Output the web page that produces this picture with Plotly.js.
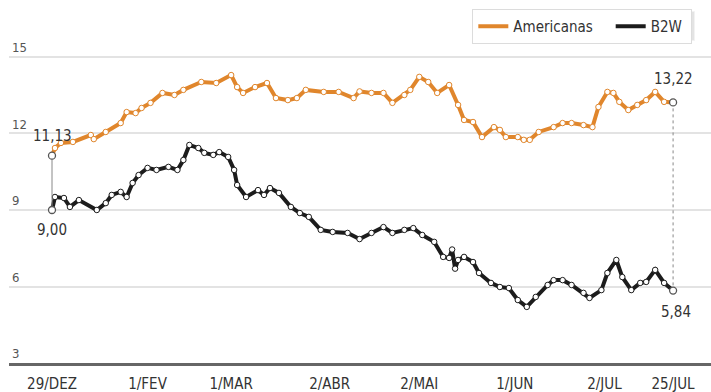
<!DOCTYPE html>
<html>
<head>
<meta charset="utf-8">
<script src="https://cdn.plot.ly/plotly-3.0.1.min.js"></script>
<style>html,body{margin:0;padding:0;background:#fff;}#chart{width:711px;height:392px;}</style>
</head>
<body>
<div id="chart"></div>
<script>
// days since 29/DEZ
const daysAm = [0,1,3,7,13,14,18,23,25,28,30,33,37,41,44,50,55,60,62,64,68,72,75,79,82,85,91,96,101,103,107,111,114,118,120,123,126,129,133,136,138,141,144,148,150,152,156,158,160,163,168,171,174,178,181,183,186,188,190,193,196,199,202,205,208];
const americanas = [11.13,11.43,11.63,11.67,11.94,11.78,12.06,12.41,12.84,12.80,13.00,13.20,13.59,13.51,13.71,14.02,13.98,14.29,13.82,13.59,13.82,13.98,13.39,13.31,13.39,13.71,13.63,13.63,13.39,13.65,13.59,13.59,13.20,13.51,13.71,14.22,14.02,13.59,13.90,13.12,12.53,12.45,11.86,12.25,12.14,11.86,11.86,11.75,11.75,12.06,12.25,12.41,12.41,12.33,12.25,13.04,13.63,13.59,13.24,12.92,13.12,13.31,13.63,13.24,13.22];
const daysB2w = [0,1,4,6,9,15,18,20,23,25,27,29,32,35,39,42,44,46,49,51,54,56,59,61,62,65,69,71,73,76,80,83,86,90,94,99,103,107,111,114,118,121,124,128,131,133,134,135,136,138,141,143,147,150,153,156,159,162,166,168,171,174,178,180,184,186,189,191,194,197,199,202,205,208];
const b2w = [9.00,9.51,9.47,9.12,9.39,9.00,9.27,9.59,9.71,9.51,10.06,10.37,10.65,10.57,10.69,10.57,10.96,11.55,11.43,11.24,11.16,11.27,11.08,10.57,9.98,9.51,9.78,9.59,9.86,9.67,9.12,8.88,8.73,8.22,8.14,8.10,7.86,8.10,8.33,8.10,8.22,8.29,8.02,7.75,7.16,7.12,7.45,6.70,7.04,7.16,6.96,6.53,6.14,5.98,5.94,5.47,5.20,5.59,6.06,6.25,6.25,6.06,5.75,5.55,5.86,6.53,7.04,6.37,5.86,6.14,6.18,6.65,6.14,5.84];
const tickDays = [0,32,60,93,123,155,185,208];
const tickLabels = ['29/DEZ','1/FEV','1/MAR','2/ABR','2/MAI','1/JUN','2/JUL','25/JUL'];
const yTicks = [3,6,9,12,15];
const seriesNames = ['Americanas', 'B2W'];
const startLabels = ['11,13','9,00'];
const endLabels = ['13,22','5,84'];

const ORANGE = '#e0862c';
const BLACK = '#1c1c1c';
const FONT = '"DejaVu Sans Condensed","Liberation Sans Narrow","Roboto",sans-serif';

function lineTrace(x, y, color) {
  return {
    x: x, y: y, type: 'scatter', mode: 'lines+markers', showlegend: false,
    line: {color: color, width: 4},
    marker: {symbol: 'circle', size: 5.5, color: '#ffffff', line: {color: color, width: 1}},
    hoverinfo: 'skip'
  };
}
const n1 = daysAm.length - 1, n2 = daysB2w.length - 1;
const NB = '\u00a0';
const traces = [
  lineTrace(daysAm, americanas, ORANGE),
  lineTrace(daysB2w, b2w, BLACK),
  {x: [daysAm[0], daysB2w[0]], y: [americanas[0], b2w[0]], type: 'scatter', mode: 'lines+markers', showlegend: false,
   line: {color: '#888', width: 1}, marker: {size: 7, color: '#fff', line: {color: '#555', width: 1.3}}, hoverinfo: 'skip'},
  {x: [daysAm[n1], daysB2w[n2]], y: [americanas[n1], b2w[n2]], type: 'scatter', mode: 'lines+markers', showlegend: false,
   line: {color: '#888', width: 1, dash: 'dot'}, marker: {size: 7, color: '#fff', line: {color: '#555', width: 1.3}}, hoverinfo: 'skip'},
  {x: [null], y: [null], type: 'scatter', mode: 'lines', name: seriesNames[0] + NB + NB + NB, line: {color: ORANGE, width: 4}},
  {x: [null], y: [null], type: 'scatter', mode: 'lines', name: seriesNames[1] + NB, line: {color: BLACK, width: 4}}
];

const annFont = {family: FONT, size: 15, color: '#333'};
const layout = {
  width: 711, height: 392,
  margin: {l: 9, r: 0, t: 41, b: 29},
  paper_bgcolor: '#fff', plot_bgcolor: '#fff',
  font: {family: FONT, size: 14, color: '#444'},
  xaxis: {
    type: 'linear', range: [-14.4, 220.7],
    tickvals: tickDays, ticktext: tickLabels,
    showgrid: false, zeroline: false,
    showline: true, linecolor: '#666', linewidth: 2.5,
    ticks: '', ticklabelstandoff: 5,
    tickfont: {family: FONT, size: 15, color: '#333'}
  },
  yaxis: {
    range: [3, 15.627], tickvals: yTicks,
    showgrid: true, gridcolor: '#e3e3e3', gridwidth: 2,
    zeroline: false, showline: false, ticks: '',
    ticklabelposition: 'inside top', ticklabeloverflow: 'allow',
    tickfont: {family: FONT, size: 13, color: '#555'}
  },
  legend: {
    orientation: 'h', x: 0.66, xanchor: 'left', y: 1.099, yanchor: 'top',
    bgcolor: '#fff', bordercolor: '#dcdcdc', borderwidth: 1,
    font: {family: FONT, size: 15, color: '#333'},
    itemwidth: 30, traceorder: 'normal'
  },
  shapes: [
    {type: 'rect', xref: 'paper', yref: 'paper', x0: 0.661, x1: 0.977, y0: 1.0, y1: 1.093,
     fillcolor: 'rgba(0,0,0,0.05)', line: {width: 0}, layer: 'above'},
    {type: 'rect', xref: 'paper', yref: 'paper', x0: 0.662, x1: 0.976, y0: 1.003, y1: 1.09,
     fillcolor: 'rgba(0,0,0,0.06)', line: {width: 0}, layer: 'above'}
  ],
  annotations: [
    {x: daysAm[0], y: americanas[0], text: startLabels[0], showarrow: false, xanchor: 'center', yanchor: 'bottom', yshift: 9, font: annFont},
    {x: daysB2w[0], y: b2w[0], text: startLabels[1], showarrow: false, xanchor: 'center', yanchor: 'top', yshift: -9, font: annFont},
    {x: daysAm[n1], y: americanas[n1], text: endLabels[0], showarrow: false, xanchor: 'center', yanchor: 'bottom', yshift: 12, font: annFont},
    {x: daysB2w[n2], y: b2w[n2], text: endLabels[1], showarrow: false, xanchor: 'center', yanchor: 'top', yshift: -10, xshift: 3, font: annFont}
  ],
  showlegend: true
};
Plotly.newPlot('chart', traces, layout, {displayModeBar: false, staticPlot: true});
</script>
</body>
</html>
